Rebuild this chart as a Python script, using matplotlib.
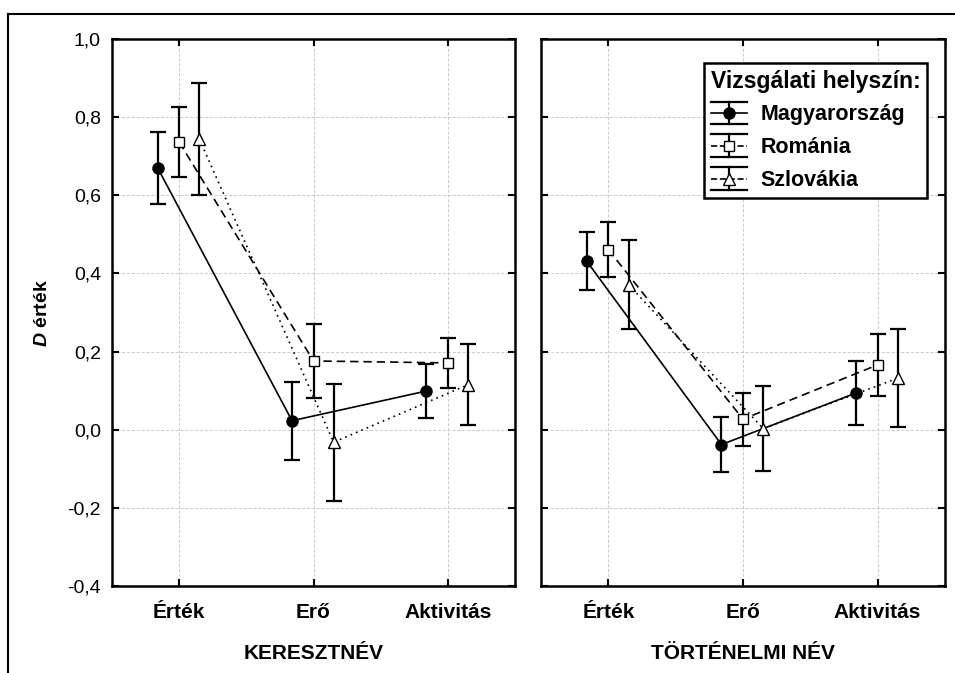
import matplotlib.pyplot as plt
from matplotlib.lines import Line2D
from matplotlib.legend_handler import HandlerBase
import numpy as np

plt.rcParams['font.family'] = ['Liberation Sans', 'DejaVu Sans']
plt.rcParams['mathtext.fontset'] = 'custom'
plt.rcParams['mathtext.it'] = 'Liberation Sans:bold:italic'

categories = ["Érték", "Erő", "Aktivitás"]
series = ["Magyarország", "Románia", "Szlovákia"]
panels = ["KERESZTNÉV", "TÖRTÉNELMI NÉV"]

# mean D values per panel / series / category
kereszt_mean = {
    "Magyarország": [0.670, 0.023, 0.099],
    "Románia": [0.736, 0.176, 0.171],
    "Szlovákia": [0.744, -0.032, 0.115],
}
kereszt_err = {
    "Magyarország": [0.093, 0.100, 0.068],
    "Románia": [0.089, 0.094, 0.064],
    "Szlovákia": [0.143, 0.150, 0.104],
}
tort_mean = {
    "Magyarország": [0.431, -0.038, 0.094],
    "Románia": [0.461, 0.027, 0.166],
    "Szlovákia": [0.371, 0.003, 0.132],
}
tort_err = {
    "Magyarország": [0.074, 0.070, 0.082],
    "Románia": [0.070, 0.068, 0.079],
    "Szlovákia": [0.114, 0.108, 0.125],
}

styles = {
    "Magyarország": dict(ls="-", marker="o", mfc="black", ms=8),
    "Románia": dict(ls=(0, (5, 3)), marker="s", mfc="white", ms=7.5),
    "Szlovákia": dict(ls=(0, (1, 2.5)), marker="^", mfc="white", ms=9),
}
offsets = {"Magyarország": -0.16, "Románia": 0.0, "Szlovákia": 0.15}


class ErrHandler(HandlerBase):
    # STATISTICA-like legend key: line + marker, vertical bar, wide caps
    def create_artists(self, legend, orig_handle, xdescent, ydescent,
                       width, height, fontsize, trans):
        x0, x1 = -xdescent, -xdescent + width
        xc = (x0 + x1) / 2
        cy = height / 2 - ydescent
        d = height * 0.75
        arts = [
            Line2D([x0, x1], [cy, cy], color="black", lw=1.2,
                   ls=orig_handle.get_linestyle()),
            Line2D([xc, xc], [cy - d, cy + d], color="black", lw=1.6),
            Line2D([x0, x1], [cy + d, cy + d], color="black", lw=1.6),
            Line2D([x0, x1], [cy - d, cy - d], color="black", lw=1.6),
            Line2D([xc], [cy], ls="none", marker=orig_handle.get_marker(),
                   mfc=orig_handle.get_markerfacecolor(), mec="black",
                   ms=orig_handle.get_markersize()),
        ]
        for a in arts:
            a.set_transform(trans)
        return arts


fig = plt.figure(figsize=(9.55, 6.73), dpi=100)
ax1 = fig.add_axes([112/955, 1-586/673, 403/955, 547/673])
ax2 = fig.add_axes([541/955, 1-586/673, 404/955, 547/673])

x = np.arange(len(categories))
for ax, means, errs, title in [(ax1, kereszt_mean, kereszt_err, panels[0]),
                               (ax2, tort_mean, tort_err, panels[1])]:
    for s in series:
        st = styles[s]
        ax.errorbar(x + offsets[s], means[s], yerr=errs[s], color="black",
                    ls=st["ls"], marker=st["marker"], mfc=st["mfc"],
                    mec="black", ms=st["ms"], lw=1.2, elinewidth=1.6,
                    capsize=6, capthick=1.6, zorder=3)
    ax.set_xlim(-0.5, 2.5)
    ax.set_ylim(-0.4, 1.0)
    ax.set_yticks(np.arange(-0.4, 1.01, 0.2))
    ax.set_xticks(x)
    ax.set_xticklabels(categories, fontsize=15, fontweight="bold")
    ax.grid(True, color="#c8c8c8", ls=(0, (3, 2)), lw=0.7)
    ax.set_axisbelow(True)
    ax.tick_params(direction="in", top=True, right=True, length=5, width=1.5)
    ax.tick_params(axis="x", pad=12)
    ax.tick_params(axis="y", pad=8)
    for sp in ax.spines.values():
        sp.set_linewidth(1.8)
    ax.set_xlabel(title, fontsize=15, fontweight="bold", labelpad=16)

ax1.set_yticklabels([f"{v:.1f}".replace(".", ",") for v in np.arange(-0.4, 1.01, 0.2)],
                    fontsize=14)
ax2.set_yticklabels([])
ax1.set_ylabel(r"$D$ érték", fontsize=14, fontweight="bold", labelpad=12)

proxies = [Line2D([], [], color="black", ls=styles[s]["ls"],
                  marker=styles[s]["marker"], mfc=styles[s]["mfc"],
                  ms=styles[s]["ms"]) for s in series]
leg = ax2.legend(proxies, series, title="Vizsgálati helyszín:", loc="upper right",
                 bbox_to_anchor=(0.955, 0.956), borderaxespad=0, fancybox=False,
                 framealpha=1, edgecolor="black",
                 prop=dict(size=15.5, weight="bold"),
                 handler_map={Line2D: ErrHandler()},
                 handlelength=1.7, borderpad=0.3, labelspacing=0.55,
                 handletextpad=0.6)
leg.get_title().set_fontweight("bold")
leg.get_title().set_fontsize(16.5)
leg._legend_box.align = "left"
leg.get_frame().set_linewidth(1.8)

# outer frame (top and left edges visible)
fig.add_artist(Line2D([8/955, 8/955], [0, 1-14/673], color="black", lw=1.5,
                      transform=fig.transFigure))
fig.add_artist(Line2D([8/955, 1], [1-14/673, 1-14/673], color="black", lw=1.5,
                      transform=fig.transFigure))

fig.savefig("out.png", dpi=100)
